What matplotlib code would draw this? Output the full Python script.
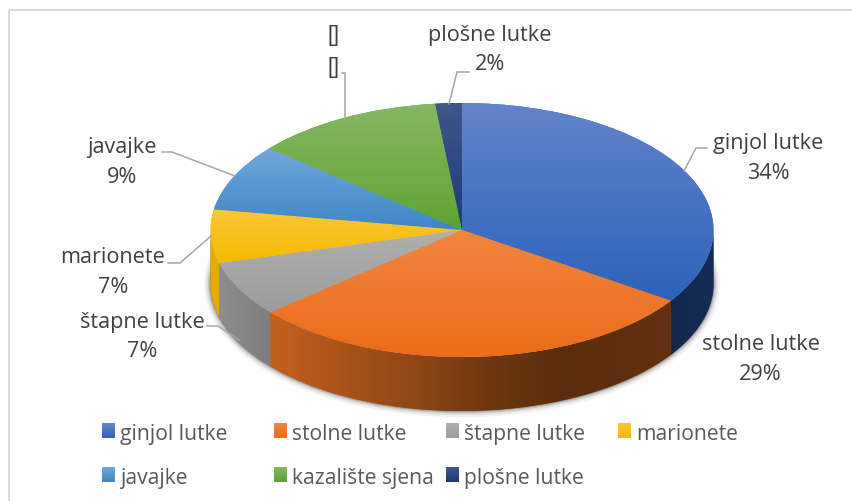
import numpy as np
import matplotlib
matplotlib.use("Agg")
import matplotlib.pyplot as plt
from matplotlib.colors import to_rgb
from matplotlib.patches import PathPatch, Ellipse
from matplotlib.path import Path

categories = ["ginjol lutke", "stolne lutke", "štapne lutke", "marionete",
              "javajke", "kazalište sjena", "plošne lutke"]
values = [34.4, 29.4, 7, 6.8, 8.5, 12.2, 1.7]
slice_labels = ["ginjol lutke", "stolne lutke", "štapne lutke", "marionete",
                "javajke", "[]", "plošne lutke"]
percent_labels = ["34%", "29%", "7%", "7%", "9%", "[]", "2%"]

grad_top = ["#6284CA", "#F1853F", "#B0B0B0", "#FDC63A", "#72A6DA", "#86B764", "#41568A"]
grad_bot = ["#2E62BA", "#EB6C1A", "#9C9C9C", "#F2BA00", "#3F86C8", "#5EA430", "#1C3C78"]
wall_base = ["#2E62BA", "#F47A25", "#A5A5A5", "#FFC000", "#3F86C8", "#5EA430", "#1C3C78"]

W, H = 853, 502
CX, CY, RX, RY, DEPTH = 462.0, 231.0, 251.5, 127.0, 54.0
plt.rcParams["font.family"] = ["Open Sans", "DejaVu Sans"]

fig = plt.figure(figsize=(W / 100, H / 100), dpi=100, facecolor="white")
ax = fig.add_axes([0, 0, 1, 1])
ax.pie(values, startangle=90, counterclock=False, radius=1.0, colors=grad_bot,
       wedgeprops=dict(linewidth=0))
wedges = [p for p in ax.patches]
xlim = ((0 - CX) / RX, (W - CX) / RX)
ylim = ((CY - H) / RY, CY / RY)
d = DEPTH / RY


def vgrad(c0, c1, n=64):
    a, b = np.array(to_rgb(c0)), np.array(to_rgb(c1))
    t = np.linspace(0, 1, n)[:, None, None]
    return a[None, None, :] * (1 - t) + b[None, None, :] * t


# soft shadow under the side wall
for lw, al in [(9, 0.05), (6, 0.08), (3.5, 0.12), (1.5, 0.2)]:
    ax.add_patch(Ellipse((0, -d), 2, 2, facecolor="none", edgecolor="black",
                         linewidth=lw, alpha=al, zorder=0.5))

# side wall, shaded along x
bright_x = np.array([210, 270, 350, 430, 500, 560, 669, 713], float)
bright_v = np.array([.88, .80, .68, .56, .44, .37, .40, .45])
xs = np.linspace(xlim[0], xlim[1], W)
bright = np.interp(CX + xs * RX, bright_x, bright_v)
edges = np.cumsum([0] + list(values)) / sum(values) * 2 * np.pi
for i, col in enumerate(wall_base):
    a0, a1 = max(edges[i], np.pi / 2), min(edges[i + 1], 3 * np.pi / 2)
    if a1 <= a0:
        continue
    t = np.linspace(a0, a1, 120)
    top = np.c_[np.sin(t), np.cos(t)]
    low = (top - [0, d])[::-1]
    verts = np.vstack([top, low, top[:1]])
    codes = [Path.MOVETO] + [Path.LINETO] * (len(verts) - 2) + [Path.CLOSEPOLY]
    base = np.array(to_rgb(col))
    f = bright
    if col == "#A5A5A5":
        f = np.interp(CX + xs * RX, [210, 270], [.88, .76])
    if col == "#FFC000":
        f = np.full_like(xs, .9)
    img = (f[:, None] * base[None, :])[None, :, :]
    patch = PathPatch(Path(verts, codes), facecolor=base * .6, linewidth=0, zorder=1)
    ax.add_patch(patch)
    im = ax.imshow(img, extent=(xlim[0], xlim[1], -2, 2), aspect="auto", zorder=1.1,
                   interpolation="bilinear")
    im.set_clip_path(patch)

# top faces, each with its own vertical gradient
for w, c0, c1 in zip(wedges, grad_top, grad_bot):
    w.set_zorder(2)
    bb = w.get_path().get_extents(w.get_patch_transform())
    im = ax.imshow(vgrad(c0, c1), extent=(bb.x0, bb.x1, bb.y0, bb.y1), origin="upper",
                   aspect="auto", zorder=2.1, interpolation="bilinear")
    im.set_clip_path(w)

ax.set_xlim(*xlim)
ax.set_ylim(*ylim)
ax.set_aspect("auto")
ax.axis("off")

# overlay in pixel coordinates
ov = fig.add_axes([0, 0, 1, 1], facecolor="none")
ov.set_xlim(0, W)
ov.set_ylim(H, 0)
ov.axis("off")

ov.plot([9.5, 9.5], [H, 11], color="#D9D9D9", lw=1.4, solid_capstyle="butt")
ov.plot([9.5, W], [11, 11], color="#D9D9D9", lw=1.4, solid_capstyle="butt")

leaders = [
    ([707, 696, 684], [149, 149, 172]),
    ([469, 457, 449], [73, 73, 105]),
    ([342, 345, 345], [74, 74, 120]),
    ([162, 172, 235], [153, 153, 177]),
    ([168, 180, 211], [264, 264, 237]),
    ([207, 218, 239], [327, 327, 341]),
]
for lx, ly in leaders:
    ov.plot(lx, ly, color="#A6A6A6", lw=1.1, solid_joinstyle="miter")

label_pos = [
    ((768, 144), (768, 174)),
    ((761, 345), (760, 375)),
    ((142, 323), (142, 352)),
    ((113, 258), (113, 288)),
    ((122, 148), (122, 178)),
    ((334, 36), (334, 67)),
    ((490, 35), (490, 65)),
]
LBL = 15.6
for name, pct, (p0, p1) in zip(slice_labels, percent_labels, label_pos):
    fam0 = "Liberation Sans" if name == "[]" else "Open Sans"
    fam1 = "Liberation Sans" if pct == "[]" else "Open Sans"
    ov.text(*p0, name, ha="center", va="center", fontsize=LBL, color="#404040", family=fam0)
    ov.text(*p1, pct, ha="center", va="center", fontsize=LBL, color="#404040", family=fam1)

leg_x = [102, 274, 446, 618, 102, 274, 446]
leg_y = [424, 424, 424, 424, 468, 468, 468]
for name, x, y, c0, c1 in zip(categories, leg_x, leg_y, grad_top, grad_bot):
    ov.imshow(vgrad(c0, c1), extent=(x, x + 13, y + 15, y), origin="upper", aspect="auto",
              interpolation="bilinear")
    ov.text(x + 18.5, y + 11, name, ha="left", va="center", fontsize=15.2, color="#595959")
ov.set_xlim(0, W)
ov.set_ylim(H, 0)

fig.savefig("out.png", dpi=100, facecolor="white")
